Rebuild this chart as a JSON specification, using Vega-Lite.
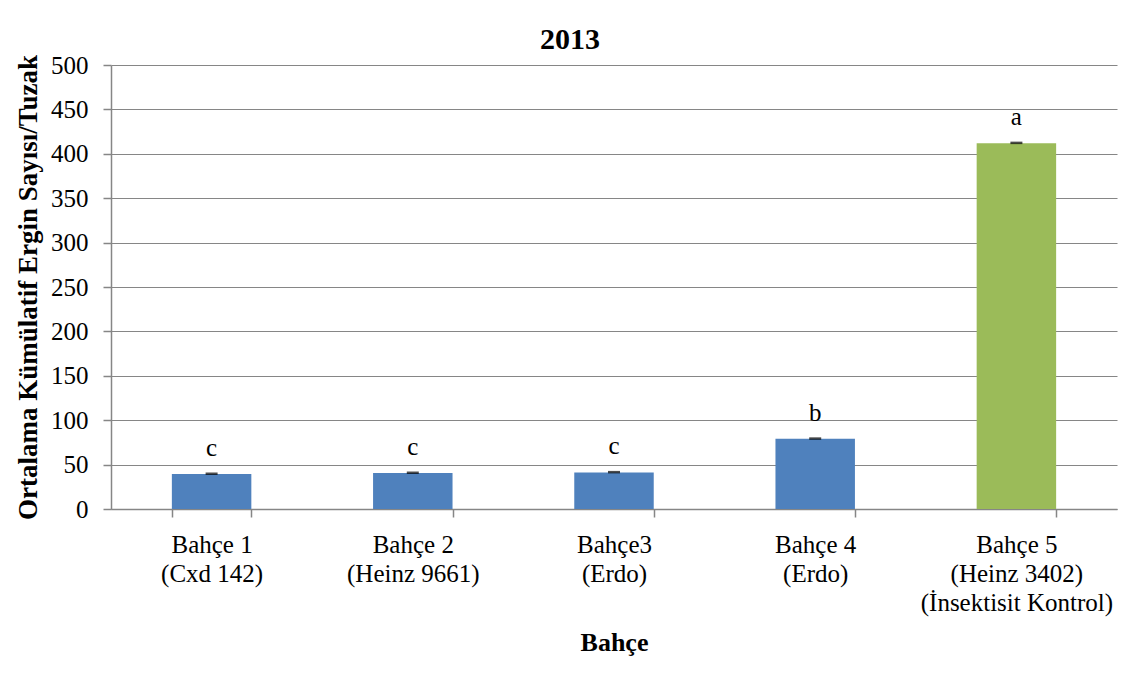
{
  "$schema": "https://vega.github.io/schema/vega-lite/v6.json",
  "autosize": "none",
  "width": 1006,
  "height": 444,
  "padding": {"left": 111, "top": 65, "right": 16, "bottom": 164},
  "background": "white",
  "config": {
    "font": "Liberation Serif",
    "view": {"stroke": null},
    "axis": {
      "labelFont": "Liberation Serif",
      "titleFont": "Liberation Serif",
      "labelColor": "black",
      "titleColor": "black",
      "domainColor": "#868686",
      "domainWidth": 1.5,
      "tickColor": "#868686",
      "tickWidth": 1.5,
      "gridColor": "#868686",
      "gridWidth": 1.2,
      "labelFontSize": 25,
      "titleFontSize": 26,
      "titleFontWeight": "bold",
      "labelLimit": 0
    }
  },
  "title": {
    "text": "2013",
    "font": "Liberation Serif",
    "fontSize": 30,
    "fontWeight": "bold",
    "color": "black",
    "anchor": "middle",
    "dx": -44,
    "dy": 12,
    "offset": 10
  },
  "data": {
    "values": [
      {"bahce": "Bahçe 1|(Cxd 142)", "mean": 39.4, "err": 0.3, "letter": "c", "group": "treated"},
      {"bahce": "Bahçe 2|(Heinz 9661)", "mean": 40.5, "err": 0.3, "letter": "c", "group": "treated"},
      {"bahce": "Bahçe3|(Erdo)", "mean": 41.2, "err": 0.3, "letter": "c", "group": "treated"},
      {"bahce": "Bahçe 4|(Erdo)", "mean": 79, "err": 0.3, "letter": "b", "group": "treated"},
      {"bahce": "Bahçe 5|(Heinz 3402)|(İnsektisit Kontrol)", "mean": 412, "err": 0.3, "letter": "a", "group": "control"}
    ]
  },
  "encoding": {
    "x": {
      "field": "bahce",
      "type": "nominal",
      "sort": null,
      "scale": {"paddingInner": 0.605, "paddingOuter": 0.3025},
      "axis": {
        "title": "Bahçe",
        "labelFont": "Liberation Serif",
        "titleFont": "Liberation Serif",
        "labelAngle": 0,
        "labelExpr": "split(datum.label, '|')",
        "labelLineHeight": 29,
        "labelPadding": 15,
        "labelLimit": 0,
        "tickBand": "extent",
        "tickSize": 8,
        "titlePadding": 14
      }
    }
  },
  "layer": [
    {
      "mark": {"type": "bar"},
      "encoding": {
        "y": {
          "field": "mean",
          "type": "quantitative",
          "scale": {"domain": [0, 500]},
          "axis": {
            "title": "Ortalama Kümülatif Ergin Sayısı/Tuzak",
            "labelFont": "Liberation Serif",
            "titleFont": "Liberation Serif",
            "titleFontSize": 27,
            "values": [0, 50, 100, 150, 200, 250, 300, 350, 400, 450, 500],
            "tickSize": 8,
            "labelPadding": 15,
            "titlePadding": 8,
            "grid": true
          }
        },
        "color": {
          "field": "group",
          "type": "nominal",
          "scale": {"domain": ["treated", "control"], "range": ["#4F81BD", "#9BBB59"]},
          "legend": null
        }
      }
    },
    {
      "mark": {"type": "tick", "color": "black", "thickness": 2.5, "size": 12},
      "encoding": {
        "y": {"field": "hi", "type": "quantitative"}
      },
      "transform": [{"calculate": "datum.mean + datum.err", "as": "hi"}]
    },
    {
      "mark": {"type": "text", "fontSize": 25, "font": "Liberation Serif", "color": "black", "baseline": "alphabetic", "dy": -18},
      "encoding": {
        "y": {"field": "mean", "type": "quantitative"},
        "text": {"field": "letter"}
      }
    }
  ]
}
